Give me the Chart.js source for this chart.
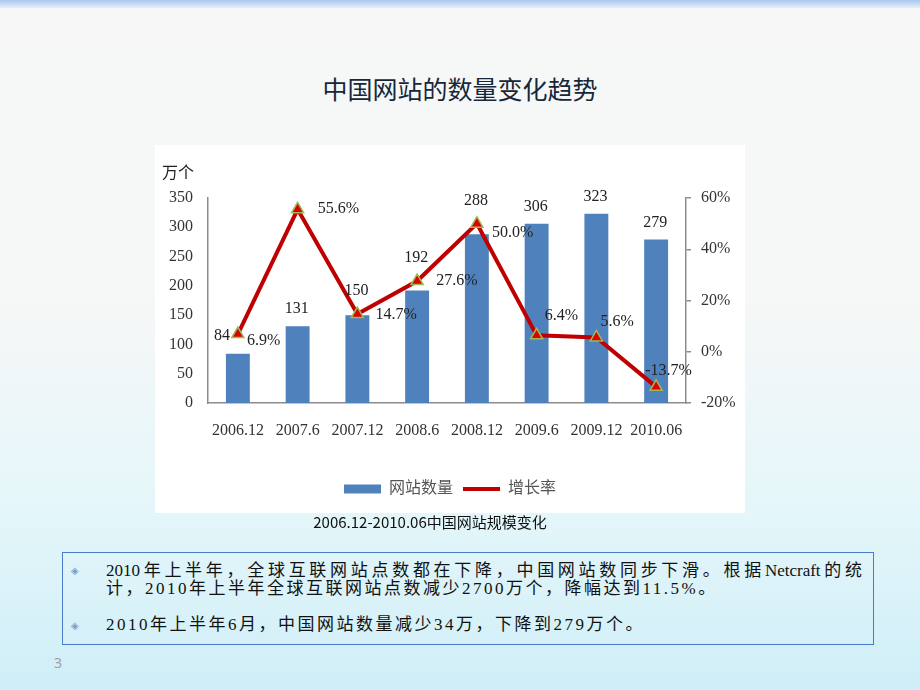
<!DOCTYPE html>
<html>
<head>
<meta charset="utf-8">
<script src="https://cdn.jsdelivr.net/npm/chart.js@4.4.1/dist/chart.umd.min.js"></script>
<style>
  body {
    margin: 0;
    width: 920px;
    height: 690px;
    position: relative;
    overflow: hidden;
    background: linear-gradient(#f7f7f7 0, #f6f7f7 300px, #e3f6fa 520px, #cfeef7 690px);
    font-family: "Liberation Serif", "Noto Sans CJK SC", serif;
  }
  .topband {
    position: absolute; left: 0; top: 0; width: 920px; height: 8px;
    background: linear-gradient(#a9c8ee, #e6eefa);
  }
  .title {
    position: absolute; left: 0; top: 74px; width: 920px; text-align: center;
    font: 25px/28px "Noto Sans CJK SC", sans-serif; color: #17273a;
  }
  .chartbox {
    position: absolute; left: 155px; top: 145px; width: 590px; height: 368px;
    background: #fff;
  }
  .unit {
    position: absolute; left: 7px; top: 19px; font-size: 16px; line-height: 18px; color: #222;
  }
  .caption {
    position: absolute; left: 230px; top: 513px; width: 400px; text-align: center;
    font: 15px/18px "Noto Sans CJK SC", sans-serif; color: #111;
  }
  .note {
    position: absolute; left: 62px; top: 552px; width: 810px; height: 91px;
    border: 1px solid #4a7ac8;
  }
  .line {
    position: absolute; left: 106px; font-size: 17px; line-height: 18px; color: #111;
    white-space: nowrap;
  }
  .l1 { top: 562px; width: 756px; text-align: justify; text-align-last: justify; }
  .l2 { top: 580px; letter-spacing: 2.5px; }
  .l3 { top: 616px; letter-spacing: 2.5px; }
  .bullet {
    position: absolute; left: 71px; font-size: 10px; line-height: 12px; color: #7d9ccc;
  }
  .pageno {
    position: absolute; left: 54px; top: 653px; font: 14px "Noto Sans", sans-serif; color: #a0a0a0;
  }
</style>
</head>
<body>
<div class="topband"></div>
<div class="title">中国网站的数量变化趋势</div>

<div class="chartbox">
  <canvas id="siteChart" width="590" height="368"></canvas>
  <div class="unit">万个</div>
</div>
<div class="caption">2006.12-2010.06中国网站规模变化</div>

<div class="note"></div>
<div class="bullet" style="top:565px">◈</div>
<div class="bullet" style="top:620px">◈</div>
<div class="line l1">2010年上半年，全球互联网站点数都在下降，中国网站数同步下滑。根据Netcraft的统</div>
<div class="line l2">计，2010年上半年全球互联网站点数减少2700万个，降幅达到11.5%。</div>
<div class="line l3">2010年上半年6月，中国网站数量减少34万，下降到279万个。</div>
<div class="pageno">3</div>

<script>
const periods = ["2006.12", "2007.6", "2007.12", "2008.6", "2008.12", "2009.6", "2009.12", "2010.06"];
const siteCounts = [84, 131, 150, 192, 288, 306, 323, 279];
const growthRates = [6.9, 55.6, 14.7, 27.6, 50.0, 6.4, 5.6, -13.7];
const countTicks = [0, 50, 100, 150, 200, 250, 300, 350];
const rateTicks = [-20, 0, 20, 40, 60];

const SERIF = '"Liberation Serif", "Noto Sans CJK SC", serif';
const BLUE = "#4F81BD";
const RED = "#C00000";
const AXIS = "#8C8C8C";

/* LABELS */
const valueLabels = {
  id: "valueLabels",
  afterDatasetsDraw(chart, args, opts) {
    const ctx = chart.ctx;
    const bars = chart.getDatasetMeta(0).data;
    const pts = chart.getDatasetMeta(1).data;
    ctx.save();
    ctx.font = "16px " + SERIF;
    ctx.fillStyle = "#222";
    ctx.textBaseline = "middle";
    bars.forEach((b, i) => {
      const p = pts[i];
      if (opts.countLeft.includes(i)) {
        ctx.textAlign = "right";
        ctx.fillText(siteCounts[i], p.x - 8, p.y + 2);
      } else {
        // lift the number over the marker when the marker sits on the bar top
        const near = p.y < b.y + 4 && b.y - p.y < 40;
        ctx.textAlign = "center";
        ctx.fillText(siteCounts[i], b.x - 1, (near ? p.y - 6 : b.y) - 17);
      }
      const [dx, dy] = opts.rateShift[i];
      ctx.textAlign = "left";
      ctx.fillText(growthRates[i].toFixed(1) + "%", p.x + dx, p.y + dy);
    });
    ctx.restore();
  }
};

function tickFont() {
  return { family: SERIF, size: 16 };
}

/* CHART */
new Chart(document.getElementById("siteChart"), {
  data: {
    labels: periods,
    datasets: [
      {
        type: "bar",
        label: "网站数量",
        data: siteCounts,
        yAxisID: "y",
        order: 2,
        backgroundColor: BLUE,
        barPercentage: 0.4,
        categoryPercentage: 1
      },
      {
        type: "line",
        label: "增长率",
        data: growthRates,
        yAxisID: "y1",
        order: 1,
        borderColor: RED,
        borderWidth: 4,
        tension: 0,
        pointStyle: "triangle",
        pointRadius: 7,
        pointBackgroundColor: "#E00000",
        pointBorderColor: "#9BBB59",
        pointBorderWidth: 1.5
      }
    ]
  },
  options: {
    responsive: false,
    animation: false,
    layout: { padding: { top: 53, left: 0, right: 0, bottom: 6 } },
    plugins: {
      tooltip: { enabled: false },
      legend: {
        position: "bottom",
        labels: {
          usePointStyle: true,
          pointStyleWidth: 37,
          boxHeight: 9,
          padding: 10,
          color: "#555",
          font: { family: SERIF, size: 16 },
          generateLabels(chart) {
            const items = Chart.defaults.plugins.legend.labels.generateLabels(chart);
            items.forEach(it => {
              if (it.datasetIndex === 0) {
                it.pointStyle = "rect";
                it.lineWidth = 0;
                it.fillStyle = BLUE;
              } else {
                it.pointStyle = "line";
                it.lineWidth = 4;
                it.strokeStyle = RED;
              }
            });
            return items.sort((a, b) => a.datasetIndex - b.datasetIndex);
          }
        }
      },
      valueLabels: {
        countLeft: [0],
        rateShift: [[9, 7], [20, 0], [18, 1], [19, 0], [15, 9], [8, -20], [4, -16], [-11, -16]]
      }
    },
    scales: {
      x: {
        grid: { display: false, drawTicks: false },
        border: { display: true, color: AXIS, width: 1.5 },
        ticks: { padding: 18, color: "#333", font: tickFont() },
        afterFit: s => { s.height = 68; }
      },
      y: {
        position: "left",
        min: countTicks[0],
        max: countTicks[countTicks.length - 1],
        afterBuildTicks: s => { s.ticks = countTicks.map(v => ({ value: v })); },
        grid: { display: false, drawTicks: false },
        border: { display: true, color: AXIS, width: 1.5 },
        ticks: { padding: 15, color: "#333", font: tickFont() },
        afterFit: s => { s.width = 53; }
      },
      y1: {
        position: "right",
        min: rateTicks[0],
        max: rateTicks[rateTicks.length - 1],
        afterBuildTicks: s => { s.ticks = rateTicks.map(v => ({ value: v })); },
        grid: { drawOnChartArea: false, drawTicks: true, tickLength: 5, color: AXIS, lineWidth: 1.5 },
        border: { display: true, color: AXIS, width: 1.5 },
        ticks: { padding: 10, color: "#333", font: tickFont(), callback: v => v + "%" },
        afterFit: s => { s.width = 59; }
      }
    }
  },
  plugins: [valueLabels]
});
</script>
</body>
</html>
